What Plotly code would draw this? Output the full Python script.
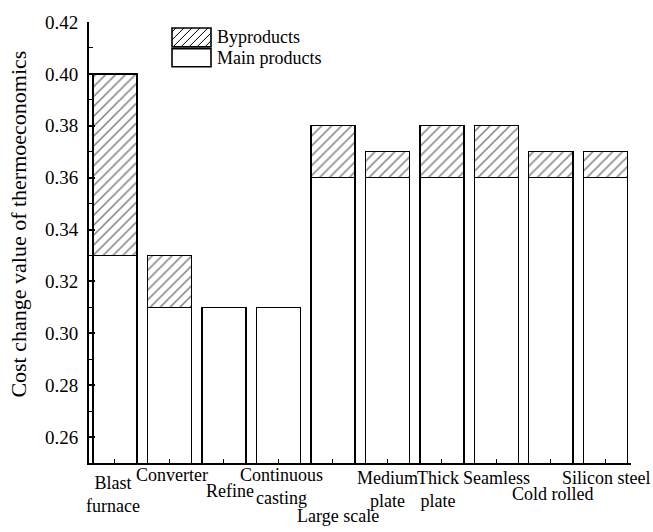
import plotly.graph_objects as go

categories = ["Blast<br>furnace", "Converter", "Refine", "Continuous<br>casting", "Large scale",
              "Medium<br>plate", "Thick<br>plate", "Seamless", "Cold rolled", "Silicon steel"]
main_products = [0.33, 0.31, 0.31, 0.31, 0.36, 0.36, 0.36, 0.36, 0.36, 0.36]
byproducts = [0.07, 0.02, 0.00, 0.00, 0.02, 0.01, 0.02, 0.02, 0.01, 0.01]
y_ticks = [0.26, 0.28, 0.30, 0.32, 0.34, 0.36, 0.38, 0.40, 0.42]
series_names = ["Byproducts", "Main products"]

# label offsets (style only): vertical shift in px, horizontal shift in px
label_yshift = [-8, 0, -16, 0, -41, -3, -3, -3, -19, -3]
label_xshift = [-2, 3, 6, 3, 5, 0, -4, 0, 2, 1]

FONT = "Liberation Serif"
W, H = 653, 532
ML, MR, MT, MB = 89, 22, 19, 69
PW, PH = W - ML - MR, H - MT - MB


def px(xp):
    return (xp - ML) / PW


def py(yp):
    return (H - MB - yp) / PH


x = list(range(len(categories)))

fig = go.Figure()
fig.add_trace(go.Bar(
    x=x, y=main_products, name=series_names[1], width=0.81,
    marker=dict(color="white", line=dict(color="black", width=1.3)),
))
fig.add_trace(go.Bar(
    x=x, y=byproducts, name=series_names[0], width=0.81,
    marker=dict(color="white", line=dict(color="black", width=1.3),
                pattern=dict(shape="/", fgcolor="black", bgcolor="white", size=7, solidity=0.22)),
))

for i, lab in enumerate(categories):
    fig.add_annotation(x=i, y=0, xref="x", yref="paper", text=lab, showarrow=False,
                       yanchor="top", yshift=label_yshift[i], xshift=label_xshift[i],
                       font=dict(family=FONT, size=18, color="black"), align="center")

# y-axis title
fig.add_annotation(x=0, y=py(223), xref="paper", yref="paper", xshift=-(ML - 19),
                   text="Cost change value of thermoeconomics", textangle=-90, showarrow=False,
                   xanchor="center", yanchor="middle", font=dict(family=FONT, size=22, color="black"))

# manual legend (boxes + hatch)
shapes = []
boxes = [(172, 25, 211, 44), (172, 46, 211, 64)]
for k, (x0, y0, x1, y1) in enumerate(boxes):
    shapes.append(dict(type="rect", xref="paper", yref="paper", x0=px(x0), x1=px(x1),
                       y0=py(y1), y1=py(y0), line=dict(color="black", width=1.6),
                       fillcolor="white", layer="above"))
    if k == 0:
        w, h = x1 - x0, y1 - y0
        c = -h + 4
        while c < w:
            sx, sy = c, 0.0
            ex, ey = c + h, float(h)
            if sx < 0:
                sy = -sx
                sx = 0
            if ex > w:
                ey = h - (ex - w)
                ex = w
            shapes.append(dict(type="line", xref="paper", yref="paper",
                               x0=px(x0 + sx), y0=py(y1 - sy), x1=px(x0 + ex), y1=py(y1 - ey),
                               line=dict(color="black", width=1), layer="above"))
            c += 8
    fig.add_annotation(x=px(x1 + 4), y=py((y0 + y1) / 2), xref="paper", yref="paper",
                       text=series_names[k], showarrow=False, xanchor="left", yanchor="middle",
                       font=dict(family=FONT, size=18, color="black"))

fig.update_layout(
    barmode="stack",
    width=W, height=H,
    margin=dict(l=ML, r=MR, t=MT, b=MB),
    plot_bgcolor="white", paper_bgcolor="white",
    font=dict(family=FONT, size=18, color="black"),
    showlegend=False,
    shapes=shapes,
    xaxis=dict(range=[-0.477, 9.47], showgrid=False, zeroline=False, showline=True,
               linecolor="black", linewidth=2, ticks="inside", ticklen=4, tickwidth=1.3,
               tickcolor="black", tickvals=x, showticklabels=False),
    yaxis=dict(range=[0.25, 0.42], showgrid=False, zeroline=False, showline=True,
               linecolor="black", linewidth=2, ticks="inside", ticklen=6, tickwidth=1.5,
               tickcolor="black", tickvals=y_ticks, tickformat=".2f", ticklabelstandoff=5,
               minor=dict(dtick=0.01, ticks="inside", ticklen=4, tickwidth=1.3, tickcolor="black"),
               tickfont=dict(family=FONT, size=19)),
)

fig.write_html("out.html")
